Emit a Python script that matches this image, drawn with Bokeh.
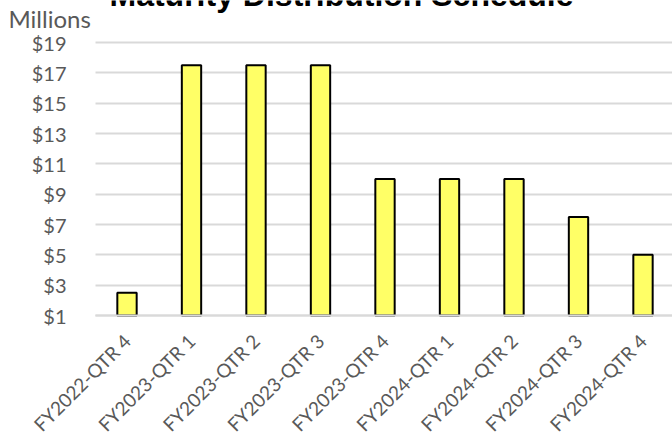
import math
from bokeh.plotting import figure
from bokeh.models import (Range1d, FixedTicker, Label, LabelSet, ColumnDataSource, Grid)
from bokeh.core.properties import value
from bokeh.embed import file_html
from bokeh.resources import INLINE

# ---- data ----
categories = ["FY2022-QTR 4", "FY2023-QTR 1", "FY2023-QTR 2", "FY2023-QTR 3",
              "FY2023-QTR 4", "FY2024-QTR 1", "FY2024-QTR 2", "FY2024-QTR 3",
              "FY2024-QTR 4"]
amounts_millions = [2.5, 17.5, 17.5, 17.5, 10.0, 10.0, 10.0, 7.5, 5.0]
y_ticks = [1, 3, 5, 7, 9, 11, 13, 15, 17, 19]
y_tick_labels = ["$1", "$3", "$5", "$7", "$9", "$11", "$13", "$15", "$17", "$19"]
title_text = "Maturity Distribution Schedule"
units_text = "Millions"

positions = list(range(len(categories)))
bars = ColumnDataSource(dict(x=positions, top=amounts_millions, cat=categories))
yticks_src = ColumnDataSource(dict(y=y_ticks, label=y_tick_labels))
base_src = ColumnDataSource(dict(y=[y_ticks[0]]))

# ---- layout (pixels) ----
FIG_W = 672
BASE_PX = 315          # y position of the $1 baseline
FRAME_H = 325          # frame spans from top of figure to a bit below the baseline
BOTTOM = 443 - FRAME_H
cat_px = 64.5          # pixels per category
first_center_px = 126.5
px_per_unit = 273 / 18.0

x_start = -first_center_px / cat_px
x_end = x_start + FIG_W / cat_px
plot_left = -0.49
y_start = 1 - (FRAME_H - BASE_PX) / px_per_unit
y_end = 1 + BASE_PX / px_per_unit

p = figure(frame_width=FIG_W, frame_height=FRAME_H,
           min_border_left=0, min_border_right=0,
           min_border_top=0, min_border_bottom=BOTTOM,
           x_range=Range1d(x_start, x_end), y_range=Range1d(y_start, y_end),
           y_axis_type=None,
           output_backend="svg", toolbar_location=None,
           background_fill_color="white", border_fill_color="white")
p.outline_line_color = None
p.xgrid.grid_line_color = None

# horizontal gridlines, only across the plot area
grid = Grid(dimension=1, ticker=FixedTicker(ticks=y_ticks),
            grid_line_color="#D9D9D9", grid_line_width=2)
if "cross_bounds" in Grid.properties():
    grid.cross_bounds = (plot_left, x_end)
    p.add_layout(grid)
else:
    p.segment(x0=plot_left, x1=x_end, y0="y", y1="y", source=yticks_src,
              line_color="#D9D9D9", line_width=2, level="underlay")

p.vbar(x="x", top="top", bottom=y_ticks[0], width=0.3, source=bars,
       fill_color="#FFFF66", line_color="black", line_width=2)

# category axis baseline drawn over the bar bottoms
p.segment(x0=plot_left, x1=x_end, y0="y", y1="y", source=base_src,
          line_color="#D9D9D9", line_width=2, level="overlay")

# y tick labels (right aligned left of the plot area)
p.add_layout(LabelSet(x=66, x_units="screen", y="y", text="label", source=yticks_src,
                      text_align="right", text_baseline="middle",
                      text_font=value("Lato"), text_font_size=value("20px"),
                      text_color="#595959"))

# x axis (labels only)
p.xaxis.ticker = FixedTicker(ticks=positions)
p.xaxis.major_label_overrides = {i: c for i, c in zip(positions, categories)}
p.xaxis.major_label_orientation = math.pi / 4
p.xaxis.axis_line_color = None
p.xaxis.major_tick_line_color = None
p.xaxis.minor_tick_line_color = None
p.xaxis.major_tick_out = 0
p.xaxis.major_tick_in = 0
p.xaxis.major_label_standoff = 12
p.xaxis.major_label_text_font = "Lato"
p.xaxis.major_label_text_font_size = "19px"
p.xaxis.major_label_text_color = "#595959"

# units label and (cut-off) title, screen units from frame bottom-left
p.add_layout(Label(x=8, y=FRAME_H - 18, x_units="screen", y_units="screen",
                   text=units_text, text_font="Lato", text_font_size="24px",
                   text_color="#595959", text_baseline="alphabetic"))
p.add_layout(Label(x=341, y=FRAME_H + 6, x_units="screen", y_units="screen",
                   text=title_text, text_font="Liberation Sans",
                   text_font_style="bold", text_font_size="32px",
                   text_color="black", text_align="center",
                   text_baseline="alphabetic"))

open("out.html", "w").write(file_html(p, INLINE))
